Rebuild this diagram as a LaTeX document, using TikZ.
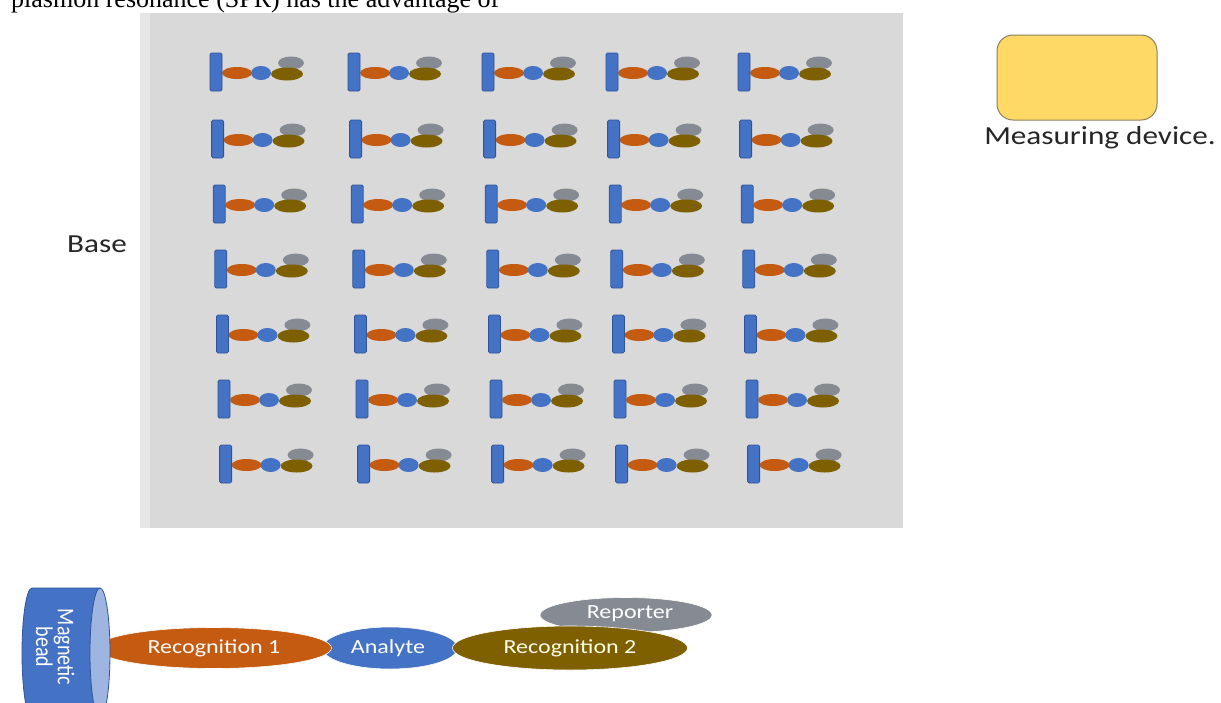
\documentclass[tikz,border=0pt]{standalone}
\usepackage{fontspec}
\setmainfont{Carlito}
\newfontfamily\serifx{Liberation Serif}
\usepackage{graphicx}
\usetikzlibrary{shapes.geometric}
\definecolor{basegray}{HTML}{D9D9D9}
\definecolor{basestrip}{HTML}{E6E6E6}
\definecolor{beadblue}{HTML}{4472C4}
\definecolor{beaddark}{HTML}{2F5597}
\definecolor{beadface}{HTML}{9DB5E0}
\definecolor{recogone}{HTML}{C55A11}
\definecolor{recogtwo}{HTML}{7F6000}
\definecolor{reportgray}{HTML}{868B93}
\definecolor{devyellow}{HTML}{FFD966}
\definecolor{devborder}{HTML}{8C7F5A}
\definecolor{labelgray}{HTML}{262626}
\newcommand\sxx[1]{\scalebox{1.2}[1]{#1}}
\tikzset{
  lbl/.style={font=\fontsize{26}{30}\selectfont, text=labelgray, inner sep=0pt},
  biglbl/.style={font=\fontsize{20}{24}\selectfont, text=white, inner sep=0pt},
  bartile/.style={rectangle, draw=beaddark, fill=beadblue, rounded corners=1.5pt,
    minimum width=12pt, minimum height=38pt, inner sep=0pt, line width=0.8pt},
  sorange/.style={ellipse, fill=recogone, minimum width=30pt, minimum height=12pt, inner sep=0pt},
  sblue/.style={ellipse, fill=beadblue, minimum width=20pt, minimum height=14pt, inner sep=0pt},
  solive/.style={ellipse, fill=recogtwo, minimum width=32pt, minimum height=13pt, inner sep=0pt},
  sgray/.style={ellipse, fill=reportgray, minimum width=26pt, minimum height=13pt, inner sep=0pt},
  bigell/.style={ellipse, inner sep=0pt, draw=white, line width=0.6pt},
}
\begin{document}
\begin{tikzpicture}[x=1pt,y=-1pt]
\useasboundingbox (0,0) rectangle (1221,702);
\clip (0,0) rectangle (1221,702);
\fill[white] (0,0) rectangle (1221,702);
% partially visible text line at top
\node[anchor=base west, font=\serifx\fontsize{26}{30}\selectfont, inner sep=0pt] (toptext) at (11,7) {plasmon resonance (SPR) has the advantage of};
% base plate
\node[rectangle, fill=basegray, minimum width=763pt, minimum height=515pt, inner sep=0pt, anchor=north west] (base) at (140,13) {};
\fill[basestrip] (140,13) rectangle (150,528);
\node[lbl] (baselbl) at (97,244) {\sxx{Base}};
% grid of molecules
\foreach \r/\cy in {0/73,1/140,2/205,3/270,4/335,5/400,6/465}{
  \foreach \c/\bb in {0/210,1/348,2/482,3/606,4/738}{
    \pgfmathsetmacro{\bx}{\bb+1.6*\r}
    \node[sgray]   (g-\r-\c) at (\bx+81,\cy-10) {};
    \node[sorange] (o-\r-\c) at (\bx+27,\cy) {};
    \node[solive]  (v-\r-\c) at (\bx+77,\cy+1) {};
    \node[sblue]   (a-\r-\c) at (\bx+51,\cy) {};
    \node[bartile] (b-\r-\c) at (\bx+6,\cy-1) {};
  }
}
% measuring device
\node[rectangle, rounded corners=16pt, fill=devyellow, draw=devborder, line width=1pt,
  minimum width=160pt, minimum height=85pt, inner sep=0pt] (device) at (1077,77.5) {};
\node[lbl] (devlbl) at (1100,138) {\sxx{Measuring device.}};
% bottom detailed molecule
\node[bigell, fill=reportgray, minimum width=172pt, minimum height=35pt] (reporter) at (626,615) {};
\node[biglbl, text=white] (replbl) at (630,614) {\sxx{Reporter}};
\node[bigell, fill=beadblue, minimum width=135pt, minimum height=42pt] (analyte) at (390,648) {};
\node[bigell, fill=recogone, minimum width=235pt, minimum height=41pt] (recog1) at (214,648) {};
\node[bigell, fill=recogtwo, minimum width=235pt, minimum height=44pt] (recog2) at (570,648) {};
\node[biglbl] (r1lbl) at (214,648) {\sxx{Recognition 1}};
\node[biglbl] (anlbl) at (388,648) {\sxx{Analyte}};
\node[biglbl, text=white!90!yellow] (r2lbl) at (570,648) {\sxx{Recognition 2}};
% magnetic bead cylinder
\filldraw[fill=beadblue, draw=beaddark, line width=0.8pt]
  (32,718) arc[start angle=90, end angle=270, x radius=10, y radius=65]
  -- (100,588) -- (100,718) -- cycle;
\filldraw[fill=beadface, draw=beaddark, line width=0.8pt] (100,653) ellipse [x radius=10, y radius=65];
\node[biglbl, rotate=-90, align=center, font=\fontsize{20}{21}\selectfont] (bead) at (52,647)
  {\scalebox{1}[1.2]{\begin{tabular}{@{}c@{}}Magnetic\\[-3pt]bead\end{tabular}}};
\end{tikzpicture}
\end{document}
